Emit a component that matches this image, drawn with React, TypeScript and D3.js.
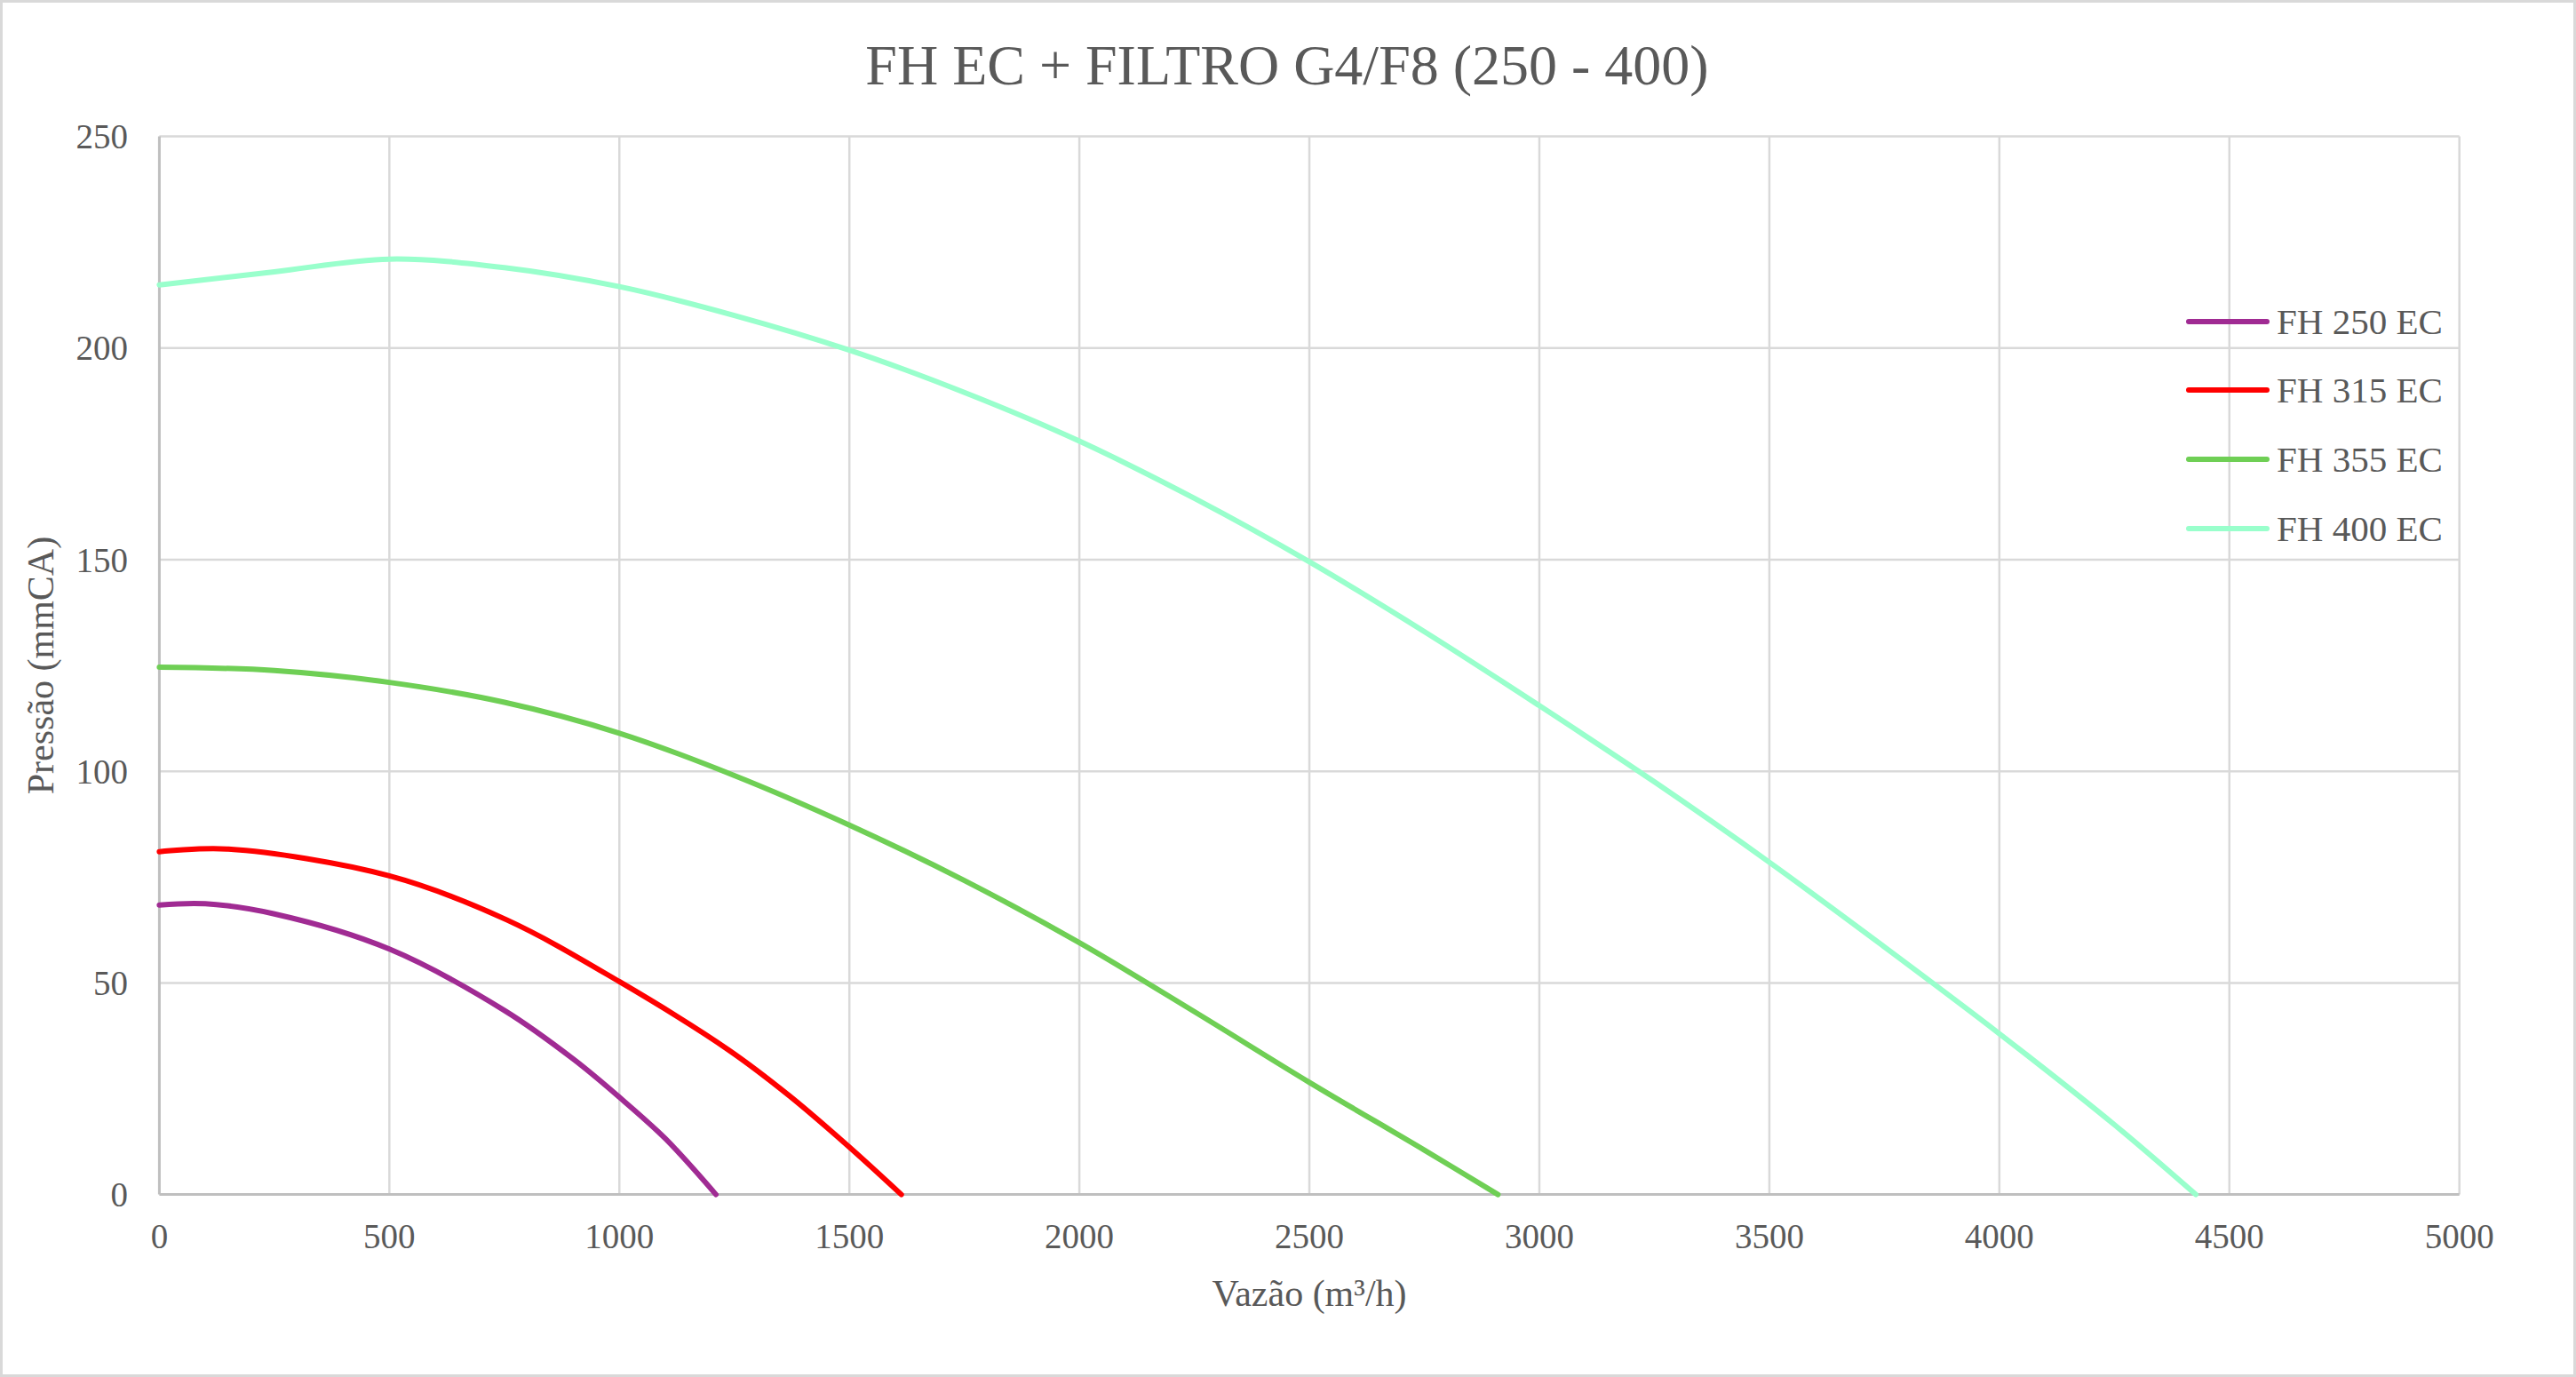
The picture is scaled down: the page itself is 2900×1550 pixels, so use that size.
import * as d3 from "d3";
import React, { useEffect, useRef } from "react";

// curve data (vazão m³/h, pressão mmCA)
const fh250x = [0, 100, 250, 500, 750, 900, 1000, 1100, 1210];
const fh250y = [68.4, 68.7, 66.3, 58, 43.5, 32, 23, 13.2, 0];

const fh315x = [0, 150, 500, 755, 1000, 1237, 1370, 1500, 1613];
const fh315y = [81, 81.6, 75.3, 64.9, 50.3, 34.2, 23.3, 11.2, 0];

const fh355x = [0, 250, 500, 750, 1000, 1250, 1500, 1750, 2000, 2250, 2500, 2750, 2910];
const fh355y = [124.6, 123.8, 121, 116.3, 109, 99, 87.3, 74.2, 59.5, 43.2, 26.5, 10.5, 0];

const fh400x = [0, 250, 500, 750, 1000, 1250, 1500, 1750, 2000, 2250, 2500, 2750, 3000, 3250, 3500, 3750, 4000, 4250, 4427];
const fh400y = [214.9, 218, 221, 219, 214.5, 207.7, 199.5, 189.5, 178, 164.5, 149.5, 133, 115.5, 97.5, 78.5, 58.5, 38, 16.5, 0];

const seriesNames = ["FH 250 EC", "FH 315 EC", "FH 355 EC", "FH 400 EC"];
const seriesColors = ["#A02B93", "#FF0000", "#6FCF55", "#99FFCC"];

const xTicks = [0, 500, 1000, 1500, 2000, 2500, 3000, 3500, 4000, 4500, 5000];
const yTicks = [0, 50, 100, 150, 200, 250];

const title = "FH EC + FILTRO G4/F8 (250 - 400)";
const xTitle = "Vazão (m³/h)";
const yTitle = "Pressão (mmCA)";

const App: React.FC = () => {
  const ref = useRef<SVGSVGElement | null>(null);

  useEffect(() => {
    const width = 2900;
    const height = 1550;
    const margin = { top: 153.5, right: 131.3, bottom: 205.4, left: 179.4 };
    const font = "'Liberation Serif', 'Times New Roman', serif";
    const textColor = "#595959";

    const svg = d3.select(ref.current);
    svg.selectAll("*").remove();

    svg
      .append("rect")
      .attr("x", 1.5)
      .attr("y", 1.5)
      .attr("width", width - 3)
      .attr("height", height - 3)
      .attr("fill", "#ffffff")
      .attr("stroke", "#D9D9D9")
      .attr("stroke-width", 3);

    const x = d3
      .scaleLinear()
      .domain([0, 5000])
      .range([margin.left, width - margin.right]);
    const y = d3
      .scaleLinear()
      .domain([0, 250])
      .range([height - margin.bottom, margin.top]);

    // gridlines
    svg
      .append("g")
      .selectAll("line")
      .data(xTicks.slice(1))
      .enter()
      .append("line")
      .attr("x1", (d) => x(d))
      .attr("x2", (d) => x(d))
      .attr("y1", y(0))
      .attr("y2", y(250))
      .attr("stroke", "#D9D9D9")
      .attr("stroke-width", 2.5);

    svg
      .append("g")
      .selectAll("line")
      .data(yTicks.slice(1))
      .enter()
      .append("line")
      .attr("x1", x(0))
      .attr("x2", x(5000))
      .attr("y1", (d) => y(d))
      .attr("y2", (d) => y(d))
      .attr("stroke", "#D9D9D9")
      .attr("stroke-width", 2.5);

    // axis lines
    svg
      .append("line")
      .attr("x1", x(0))
      .attr("x2", x(0))
      .attr("y1", y(0))
      .attr("y2", y(250))
      .attr("stroke", "#BFBFBF")
      .attr("stroke-width", 3);
    svg
      .append("line")
      .attr("x1", x(0))
      .attr("x2", x(5000))
      .attr("y1", y(0))
      .attr("y2", y(0))
      .attr("stroke", "#BFBFBF")
      .attr("stroke-width", 3);

    // tick labels
    svg
      .append("g")
      .selectAll("text")
      .data(xTicks)
      .enter()
      .append("text")
      .text((d) => String(d))
      .attr("x", (d) => x(d))
      .attr("y", 1405)
      .attr("text-anchor", "middle")
      .attr("font-family", font)
      .attr("font-size", "39px")
      .attr("fill", textColor);

    svg
      .append("g")
      .selectAll("text")
      .data(yTicks)
      .enter()
      .append("text")
      .text((d) => String(d))
      .attr("x", 144)
      .attr("y", (d) => y(d))
      .attr("dy", "0.35em")
      .attr("text-anchor", "end")
      .attr("font-family", font)
      .attr("font-size", "39px")
      .attr("fill", textColor);

    // titles
    svg
      .append("text")
      .text(title)
      .attr("x", 1449)
      .attr("y", 95)
      .attr("text-anchor", "middle")
      .attr("font-family", font)
      .attr("font-size", "64px")
      .attr("fill", textColor);

    svg
      .append("text")
      .text(xTitle)
      .attr("x", (x(0) + x(5000)) / 2)
      .attr("y", 1470)
      .attr("text-anchor", "middle")
      .attr("font-family", font)
      .attr("font-size", "42px")
      .attr("fill", textColor);

    svg
      .append("text")
      .text(yTitle)
      .attr("transform", `translate(60, ${(y(0) + y(250)) / 2}) rotate(-90)`)
      .attr("text-anchor", "middle")
      .attr("font-family", font)
      .attr("font-size", "42px")
      .attr("fill", textColor);

    // curves
    const xs = [fh250x, fh315x, fh355x, fh400x];
    const ys = [fh250y, fh315y, fh355y, fh400y];

    const line = d3
      .line<[number, number]>()
      .x((d) => x(d[0]))
      .y((d) => y(d[1]))
      .curve(d3.curveCatmullRom.alpha(0.5));

    seriesNames.forEach((name, i) => {
      const pts: [number, number][] = xs[i].map((v, j) => [v, ys[i][j]]);
      svg
        .append("path")
        .attr("d", line(pts) as string)
        .attr("fill", "none")
        .attr("stroke", seriesColors[i])
        .attr("stroke-width", 6)
        .attr("stroke-linecap", "round")
        .attr("stroke-linejoin", "round");
    });

    // legend
    const legendY = [362, 439, 517, 595];
    seriesNames.forEach((name, i) => {
      svg
        .append("line")
        .attr("x1", 2464)
        .attr("x2", 2552)
        .attr("y1", legendY[i])
        .attr("y2", legendY[i])
        .attr("stroke", seriesColors[i])
        .attr("stroke-width", 6)
        .attr("stroke-linecap", "round");
      svg
        .append("text")
        .text(name)
        .attr("x", 2563)
        .attr("y", legendY[i])
        .attr("dy", "0.35em")
        .attr("font-family", font)
        .attr("font-size", "41px")
        .attr("fill", textColor);
    });
  }, []);

  return (
    <svg
      ref={ref}
      width={2900}
      height={1550}
      style={{ position: "absolute", left: 0, top: 0, display: "block" }}
    />
  );
};

export default App;
